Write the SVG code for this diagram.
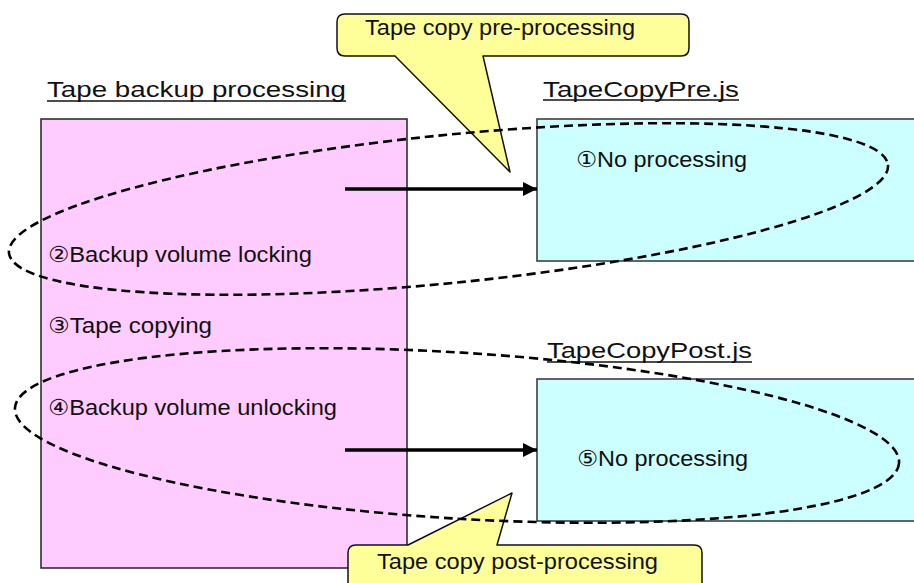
<svg xmlns="http://www.w3.org/2000/svg" width="914" height="583" viewBox="0 0 914 583">
<style>
text{font-family:"Liberation Sans","DejaVu Sans",sans-serif;font-size:22px;fill:#111;}
.pink{fill:#ffccff;stroke:#222;stroke-width:1.5;}
.cyan{fill:#ccffff;stroke:#333;stroke-width:1.5;}
.call{fill:#ffff99;stroke:#111;stroke-width:1.5;stroke-linejoin:round;}
.ell{fill:none;stroke:#000;stroke-width:2.6;stroke-dasharray:9 5;}
.ul{stroke:#111;stroke-width:1.5;}
.arr{stroke:#000;stroke-width:3.5;fill:none;}
</style>
<defs>
<marker id="ah" viewBox="0 0 10 10" refX="10" refY="5" markerWidth="4" markerHeight="4" markerUnits="strokeWidth" orient="auto">
<path d="M0,0 L10,5 L0,10 Z" fill="#000"/>
</marker>
</defs>
<rect width="914" height="583" fill="#fff"/>
<g id="tape-backup">
<rect class="pink" x="41" y="119" width="366" height="449"/>
<text x="47" y="97" textLength="299" lengthAdjust="spacingAndGlyphs">Tape backup processing</text>
<line class="ul" x1="47" y1="101" x2="346" y2="101"/>
<text x="48" y="262" textLength="264" lengthAdjust="spacingAndGlyphs">②Backup volume locking</text>
<text x="48" y="333" textLength="164" lengthAdjust="spacingAndGlyphs">③Tape copying</text>
<text x="48" y="415" textLength="289" lengthAdjust="spacingAndGlyphs">④Backup volume unlocking</text>
</g>
<g id="tapecopypre">
<rect class="cyan" x="537" y="119" width="390" height="142"/>
<text x="543" y="97" textLength="196" lengthAdjust="spacingAndGlyphs">TapeCopyPre.js</text>
<line class="ul" x1="543" y1="100" x2="739" y2="100"/>
<text x="576" y="167" textLength="171" lengthAdjust="spacingAndGlyphs">①No processing</text>
</g>
<g id="tapecopypost">
<rect class="cyan" x="537" y="379" width="390" height="142"/>
<text x="547" y="358" textLength="205" lengthAdjust="spacingAndGlyphs">TapeCopyPost.js</text>
<line class="ul" x1="547" y1="362" x2="752" y2="362"/>
<text x="577" y="466" textLength="171" lengthAdjust="spacingAndGlyphs">⑤No processing</text>
</g>
<g id="connectors">
<line class="arr" x1="345" y1="189" x2="537" y2="189" marker-end="url(#ah)"/>
<line class="arr" x1="345" y1="450" x2="537" y2="450" marker-end="url(#ah)"/>
</g>
<g id="callout-pre">
<path class="call" d="M345,14 H681 Q689,14 689,22 V48 Q689,56 681,56 H483 L510,172 L395,56 H345 Q337,56 337,48 V22 Q337,14 345,14 Z"/>
<text x="365" y="35" textLength="270" lengthAdjust="spacingAndGlyphs">Tape copy pre-processing</text>
</g>
<g id="callout-post">
<path class="call" d="M356,545 H408 L512,493 L497,545 H694 Q702,545 702,553 V600 H348 V553 Q348,545 356,545 Z"/>
<text x="377" y="569" textLength="281" lengthAdjust="spacingAndGlyphs">Tape copy post-processing</text>
</g>
<g id="scope-pre">
<ellipse class="ell" cx="448.5" cy="209" rx="441.7" ry="74" transform="rotate(-5.72 448.5 209)"/>
</g>
<g id="scope-post">
<ellipse class="ell" cx="457" cy="435.5" rx="442.9" ry="83" transform="rotate(3.56 457 435.5)"/>
</g>
</svg>
